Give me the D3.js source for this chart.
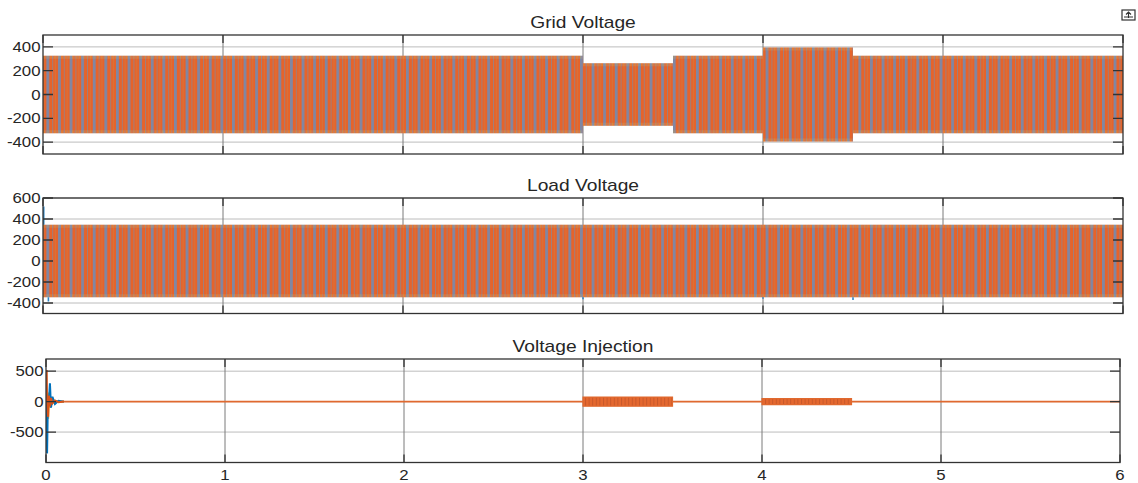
<!DOCTYPE html>
<html>
<head>
<meta charset="utf-8">
<script src="https://cdn.jsdelivr.net/npm/d3@7"></script>
<style>
  body { margin: 0; background: #fff; }
  text { font-family: "Liberation Sans", Arial, sans-serif; fill: #262626; }
</style>
</head>
<body>
<svg id="chart" width="1138" height="483"></svg>
<script>
// ---- values ----
const timeTicks = [0, 1, 2, 3, 4, 5, 6];

// grid voltage: segment edges (s) and peak of the three-phase band (V)
const gridEdges = [0, 3, 3.5, 4, 4.5, 6];
const gridAmp   = [325, 262, 325, 395, 325];
const gridTicks = [-400, -200, 0, 200, 400];

// load voltage
const loadEdges  = [0, 6];
const loadAmp    = [345];
const loadTicks  = [-400, -200, 0, 200, 400, 600];
const loadSpikeT = [0.004, 0.03, 3.0, 4.0, 4.5];
const loadSpikeV = [520, -385, -365, -360, -372];

// voltage injection
const injEdges = [0, 3, 3.5, 4, 4.5, 6];
const injAmp   = [6, 75, 6, 50, 6];
const injTicks = [-500, 0, 500];
// start-up transient, one list per phase
const startT      = [0.004, 0.006, 0.009, 0.012, 0.016, 0.022, 0.028, 0.036, 0.05, 0.07, 0.1];
const startPhaseA = [0, -850, -300, 100, 0, 300, -100, 80, -40, 15, 0];   // blue
const startPhaseB = [520, 0, -150, -250, 100, -80, 60, -30, 20, -10, 0];  // orange
const startPhaseC = [0, -100, -200, -280, 150, -100, 50, -20, 10, -5, 0]; // yellow

const svg = d3.select('#chart');

// stripe fills standing in for the dense 50 Hz traces
const defs = svg.append('defs');
let wave = defs.append('pattern')
  .attr('id', 'wave')
  .attr('patternUnits', 'userSpaceOnUse')
  .attr('width', 11.6).attr('height', 500);
wave.append('rect').attr('width', 11.6).attr('height', 500).attr('fill', '#e6632b');
wave.append('rect').attr('x', 0).attr('width', 2.8).attr('height', 500).attr('fill', '#7f87a4');
wave.append('rect').attr('x', 5.8).attr('width', 1).attr('height', 500).attr('fill', '#a07f7a');
wave.append('rect').attr('x', 8.6).attr('width', 0.8).attr('height', 500).attr('fill', '#d2773f');

let edge = defs.append('pattern')
  .attr('id', 'edge')
  .attr('patternUnits', 'userSpaceOnUse')
  .attr('width', 3.6).attr('height', 500);
edge.append('rect').attr('x', 0.4).attr('width', 0.9).attr('height', 500).attr('fill', '#e2b23c');
edge.append('rect').attr('x', 2.2).attr('width', 0.9).attr('height', 500).attr('fill', '#9a9cae');

let burst = defs.append('pattern')
  .attr('id', 'burst')
  .attr('patternUnits', 'userSpaceOnUse')
  .attr('width', 3.6).attr('height', 500);
burst.append('rect').attr('width', 3.6).attr('height', 500).attr('fill', '#e4682f');
burst.append('rect').attr('x', 1.8).attr('width', 1).attr('height', 500).attr('fill', '#c8582a');

const panels = [
  { id: 'grid', title: 'Grid Voltage', edges: gridEdges, amp: gridAmp, ticks: gridTicks,
    yDom: [-500, 500], x0: 43, x1: 1123, top: 35, bottom: 154 },
  { id: 'load', title: 'Load Voltage', edges: loadEdges, amp: loadAmp, ticks: loadTicks,
    yDom: [-500, 600], x0: 43, x1: 1123, top: 198, bottom: 313.5 },
  { id: 'inj', title: 'Voltage Injection', edges: injEdges, amp: injAmp, ticks: injTicks,
    yDom: [-1000, 700], x0: 46, x1: 1120, top: 359, bottom: 462.5 }
];

// turns segment edges + amplitudes into step points
function envelope(edges, amp) {
  let pts = [];
  for (let i = 0; i < amp.length; i++) {
    pts.push([edges[i], amp[i]]);
    pts.push([edges[i + 1], amp[i]]);
  }
  return pts;
}

function scaledText(g, x, y, str, size, anchor) {
  return g.append('text')
    .attr('transform', `translate(${x},${y}) scale(1.2,1)`)
    .attr('text-anchor', anchor)
    .style('font-size', size + 'px')
    .text(str);
}

panels.forEach((p, pi) => {
  let x = d3.scaleLinear().domain([0, 6]).range([p.x0, p.x1]);
  let y = d3.scaleLinear().domain(p.yDom).range([p.bottom, p.top]);
  let g = svg.append('g').attr('class', 'panel ' + p.id);

  g.append('clipPath').attr('id', 'clip-' + p.id)
    .append('rect')
    .attr('x', p.x0).attr('y', p.top)
    .attr('width', p.x1 - p.x0).attr('height', p.bottom - p.top);

  // grid
  g.selectAll('.hgrid')
    .data(p.ticks)
    .enter()
    .append('line')
    .attr('x1', p.x0).attr('x2', p.x1)
    .attr('y1', d => y(d)).attr('y2', d => y(d))
    .style('stroke', '#bcbcbc').style('stroke-width', 1);
  g.selectAll('.vgrid')
    .data(timeTicks.slice(1, -1))
    .enter()
    .append('line')
    .attr('x1', d => x(d)).attr('x2', d => x(d))
    .attr('y1', p.top).attr('y2', p.bottom)
    .style('stroke', '#7a7a7a').style('stroke-width', 1);

  let plot = g.append('g').attr('clip-path', `url(#clip-${p.id})`);
  let pts = envelope(p.edges, p.amp);

  if (p.id !== 'inj') {
    let area = d3.area().x(d => x(d[0])).y0(d => y(-d[1])).y1(d => y(d[1]));
    plot.append('path').datum(pts).attr('d', area).attr('fill', 'url(#wave)');
    // ragged peaks along both edges
    let edgeTop = d3.area().x(d => x(d[0])).y0(d => y(d[1]) + 3).y1(d => y(d[1]));
    let edgeBot = d3.area().x(d => x(d[0])).y0(d => y(-d[1]) - 3).y1(d => y(-d[1]));
    plot.append('path').datum(pts).attr('d', edgeTop).attr('fill', 'url(#edge)').attr('opacity', 0.6);
    plot.append('path').datum(pts).attr('d', edgeBot).attr('fill', 'url(#edge)').attr('opacity', 0.6);
  } else {
    let area = d3.area().x(d => x(d[0])).y0(d => y(-d[1])).y1(d => y(d[1]));
    plot.append('path').datum(pts).attr('d', area)
      .attr('fill', 'url(#burst)')
      .style('stroke', '#e0692f').style('stroke-width', 1.2);
    // start-up transient
    let line = d3.line().x((d, i) => x(startT[i])).y(d => y(d));
    [[startPhaseC, '#edb120'], [startPhaseA, '#0072bd'], [startPhaseB, '#d95319']].forEach(s => {
      plot.append('path').datum(s[0]).attr('d', line)
        .attr('fill', 'none')
        .style('stroke', s[1]).style('stroke-width', 2);
    });
  }

  if (p.id === 'load') {
    plot.selectAll('.spike')
      .data(loadSpikeT)
      .enter()
      .append('line')
      .attr('x1', d => x(d)).attr('x2', d => x(d))
      .attr('y1', (d, i) => y(Math.sign(loadSpikeV[i]) * loadAmp[0]))
      .attr('y2', (d, i) => y(loadSpikeV[i]))
      .style('stroke', '#2a86c8').style('stroke-width', 1.6);
  }

  // frame
  g.append('rect')
    .attr('x', p.x0).attr('y', p.top)
    .attr('width', p.x1 - p.x0).attr('height', p.bottom - p.top)
    .attr('fill', 'none')
    .style('stroke', '#333').style('stroke-width', 1.3);

  // inward ticks on all four sides
  g.selectAll('.ytl')
    .data(p.ticks)
    .enter()
    .append('path')
    .attr('d', d => `M${p.x0},${y(d)}h10M${p.x1},${y(d)}h-10`)
    .style('stroke', '#333').style('stroke-width', 1.3);
  g.selectAll('.xtl')
    .data(timeTicks)
    .enter()
    .append('path')
    .attr('d', d => `M${x(d)},${p.bottom}v-8M${x(d)},${p.top}v8`)
    .style('stroke', '#333').style('stroke-width', 1.3);

  // y tick labels
  p.ticks.forEach(t => {
    scaledText(g, p.x0 - 2.5, y(t) + 5, t, 14, 'end');
  });

  // title
  scaledText(g, (p.x0 + p.x1) / 2, p.top - 7.5, p.title, 16, 'middle');

  // time labels only under the last panel
  if (pi === panels.length - 1) {
    timeTicks.forEach(t => {
      scaledText(g, x(t), 480, t, 14, 'middle');
    });
  }
});

// little figure-toolbar icon in the corner
let icon = svg.append('g').attr('transform', 'translate(1122,10)');
icon.append('rect').attr('width', 13).attr('height', 10)
  .attr('fill', 'none').style('stroke', '#333').style('stroke-width', 1.2);
icon.append('path').attr('d', 'M6.5,2v6M4,4.5l2.5,-2.5l2.5,2.5M2,7h9')
  .attr('fill', 'none').style('stroke', '#333').style('stroke-width', 1.1);
</script>
</body>
</html>
